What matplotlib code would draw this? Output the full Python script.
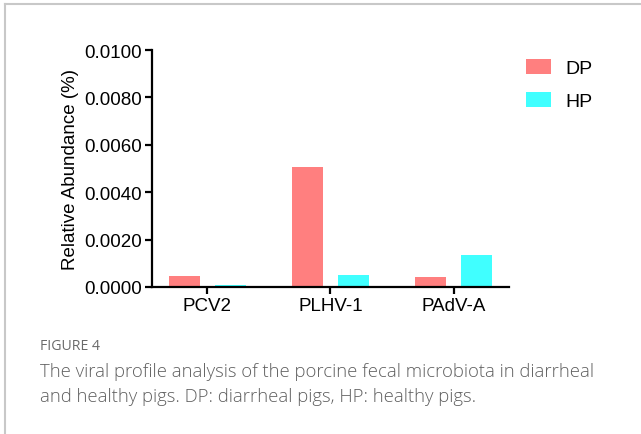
import matplotlib
matplotlib.use("Agg")
import matplotlib.pyplot as plt
from matplotlib.lines import Line2D
import numpy as np

categories = ["PCV2", "PLHV-1", "PAdV-A"]
dp_values = [0.00045, 0.00505, 0.00041]
hp_values = [0.00008, 0.00051, 0.00136]
yticks = [0.0, 0.002, 0.004, 0.006, 0.008, 0.010]
ytick_labels = ["0.0000", "0.0020", "0.0040", "0.0060", "0.0080", "0.0100"]

plt.rcParams['font.family'] = ['Liberation Sans', 'DejaVu Sans']

fig = plt.figure(figsize=(6.41, 4.35), dpi=100)
ax = fig.add_axes([152/641, 1-288/435, (509-152)/641, (288-51)/435])

x = np.arange(len(categories))
w = 0.25
off = 0.185
ax.bar(x - off, dp_values, w, color="#FF7F7F", label="DP")
ax.bar(x + off, hp_values, w, color="#40FFFF", label="HP")

ax.set_xlim(-0.45, 2.45)
ax.set_ylim(0, 0.010)
ax.set_xticks(x)
ax.set_xticklabels(categories, fontsize=13.5)
ax.set_yticks(yticks)
ax.set_yticklabels(ytick_labels, fontsize=13.5)
ax.set_ylabel("Relative Abundance (%)", fontsize=13.5, labelpad=4)
for s in ["top", "right"]:
    ax.spines[s].set_visible(False)
for s in ["left", "bottom"]:
    ax.spines[s].set_linewidth(1.6)
ax.tick_params(axis="both", width=1.6, length=5, direction="out", pad=2, colors="black")

leg = fig.legend(loc="upper left", bbox_to_anchor=(526/641, 1-60/435), frameon=False,
                 fontsize=14, handlelength=1.29, handleheight=0.8, labelspacing=0.75,
                 handletextpad=0.75, borderpad=0, borderaxespad=0)

cap_family = ["Open Sans", "DejaVu Sans"]
fig.text(40/641, 1-347/435, "FIGURE 4", fontsize=10.2, color="#6a6a6a",
         family=cap_family, va="center", ha="left")
fig.text(40/641, 1-372/435, "The viral profile analysis of the porcine fecal microbiota in diarrheal",
         fontsize=13.3, color="#5f5f5f", family=cap_family, fontweight="light", va="center", ha="left")
fig.text(40/641, 1-397/435, "and healthy pigs. DP: diarrheal pigs, HP: healthy pigs.",
         fontsize=13.3, color="#5f5f5f", family=cap_family, fontweight="light", va="center", ha="left")

fig.add_artist(Line2D([5/641, 5/641], [0, 1-5/435], transform=fig.transFigure, color="#c8c8c8", lw=1.5))
fig.add_artist(Line2D([5/641, 1], [1-5/435, 1-5/435], transform=fig.transFigure, color="#c8c8c8", lw=1.5))

fig.savefig("out.png", dpi=100)
